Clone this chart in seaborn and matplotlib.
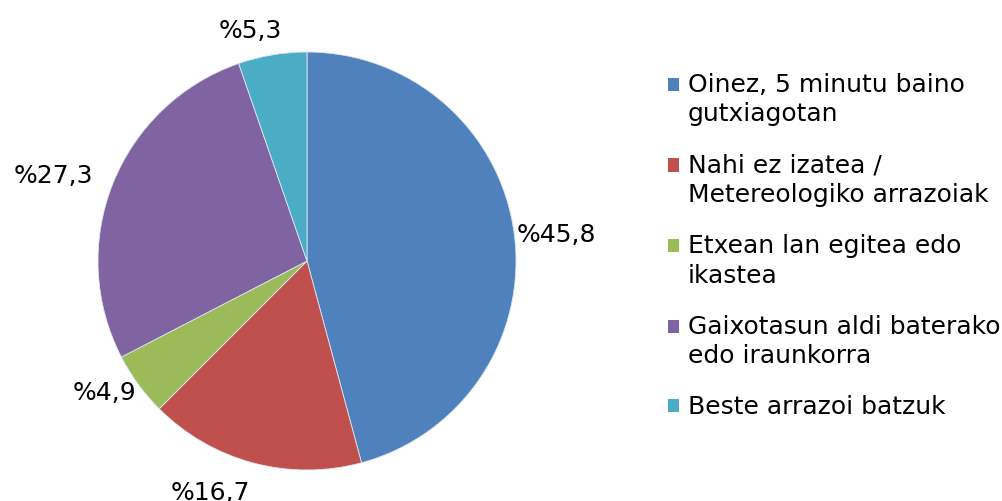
import matplotlib
matplotlib.use('Agg')
import matplotlib.pyplot as plt
import matplotlib.transforms as mtransforms
import seaborn as sns
from matplotlib.patches import Patch, Rectangle
from matplotlib.legend_handler import HandlerPatch

sns.set_style('white')
plt.rcParams['font.family'] = ['DejaVu Sans']
plt.rcParams['text.color'] = 'black'

# Chart data
categories = ['Oinez, 5 minutu baino\ngutxiagotan',
              'Nahi ez izatea /\nMetereologiko arrazoiak',
              'Etxean lan egitea edo\nikastea',
              'Gaixotasun aldi baterako\nedo iraunkorra',
              'Beste arrazoi batzuk']
values = [45.8, 16.7, 4.9, 27.3, 5.3]
colors = ['#4F81BD', '#C0504D', '#9BBB59', '#8064A2', '#4BACC6']

value_labels = ['%' + f'{v:.1f}'.replace('.', ',') for v in values]
# small hand nudges (points) so labels sit like the original's best-fit placement
label_nudge = [(0.7, -2.9), (-23, 9), (0, 13.7), (-15, -4), (-11, -11)]

fig = plt.figure(figsize=(10.02, 5.01), dpi=100)
ax = fig.add_axes([98 / 1002, 1 - 470 / 501, 418 / 1002, 418 / 501])

wedges, texts = ax.pie(values, colors=colors, labels=value_labels,
                       startangle=90, counterclock=False,
                       labeldistance=1.2,
                       wedgeprops={'linewidth': 0.6, 'edgecolor': '#dde6f0'},
                       textprops={'fontsize': 18})
for t, (dx, dy) in zip(texts, label_nudge):
    t.set_horizontalalignment('center')
    t.set_verticalalignment('center_baseline')
    t.set_transform(mtransforms.offset_copy(ax.transData, fig, dx, dy, units='points'))
ax.set_xlim(-1, 1)
ax.set_ylim(-1, 1)
ax.set_aspect('equal')


def top_square(legend, orig_handle, xdescent, ydescent, width, height, fontsize):
    # put the colour square beside the first line of a wrapped label
    shift = getattr(orig_handle, 'shift', 0)
    return Rectangle((-xdescent, -ydescent + shift), width, height)


handles = []
for c, lab in zip(colors, categories):
    p = Patch(facecolor=c, edgecolor='none')
    p.shift = 11.3 * lab.count('\n')
    handles.append(p)

leg = fig.legend(handles, categories, loc='upper left',
                 bbox_to_anchor=(645 / 1002, 1 - 50 / 501),
                 frameon=False, fontsize=18,
                 handlelength=0.45, handleheight=0.45, handletextpad=0.35,
                 labelspacing=1.08,
                 handler_map={Patch: HandlerPatch(patch_func=top_square)})
for t in leg.get_texts():
    t.set_linespacing(1.3)

plt.savefig('out.png', dpi=100)
